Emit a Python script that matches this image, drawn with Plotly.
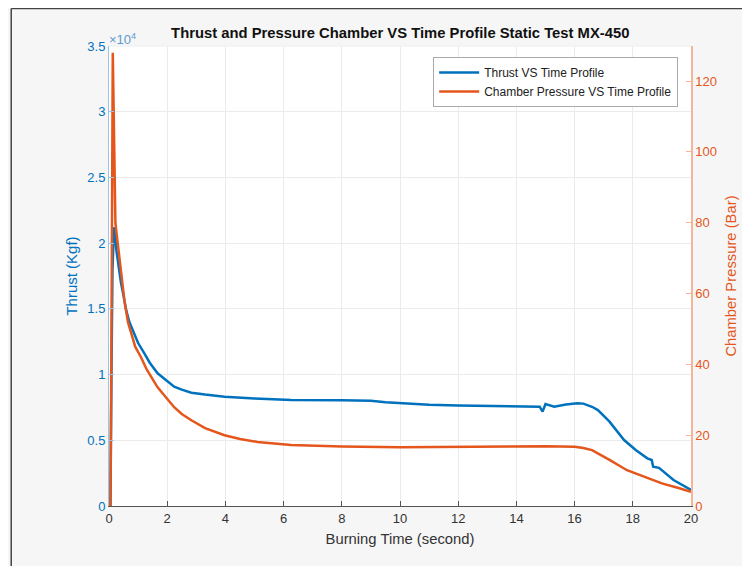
import plotly.graph_objects as go

# ---- data ----
thrust_time = [0.0, 0.05, 0.08, 0.12, 0.17, 0.21, 0.25, 0.3, 0.41, 0.5, 0.59, 0.7, 0.87, 1.0, 1.22, 1.4,
               1.67, 2.0, 2.24, 2.5, 2.83, 3.3, 3.97, 5.0, 6.26, 8.0, 9.0, 9.5, 10.0, 11.0, 12.0, 12.83,
               14.0, 14.6, 14.8, 14.9, 15.0, 15.3, 15.7, 16.1, 16.3, 16.6, 16.8, 17.2, 17.7, 18.1,
               18.5, 18.65, 18.7, 18.9, 19.4, 20.0]
thrust_kgf = [0, 0, 9000, 18000, 21200, 20800, 19500, 18600, 17000, 16000, 14900, 14000, 13100, 12400,
              11600, 10900, 10100, 9500, 9080, 8850, 8620, 8480, 8320, 8180, 8070, 8040, 8010, 7900,
              7830, 7700, 7640, 7610, 7600, 7590, 7560, 7180, 7760, 7560, 7720, 7810, 7790, 7550,
              7300, 6420, 5020, 4260, 3630, 3500, 2990, 2900, 1980, 1220]

press_time = [0.0, 0.05, 0.08, 0.1, 0.13, 0.16, 0.19, 0.22, 0.26, 0.3, 0.41, 0.45, 0.53, 0.65, 0.76,
              0.9, 1.1, 1.3, 1.67, 2.0, 2.24, 2.5, 2.83, 3.3, 3.97, 4.5, 5.1, 6.26, 8.0, 10.0, 12.0,
              14.0, 15.0, 16.0, 16.3, 16.6, 16.9, 17.2, 17.8, 18.4, 19.0, 19.6, 20.0]
press_bar = [0, 0, 40, 100, 128, 112, 90, 80, 77, 74, 67.3, 64, 58, 52, 48.7,
             45, 42, 38.5, 33.5, 30.2, 27.9, 26, 24.2, 22, 20.0, 18.9, 18.1, 17.2, 16.8, 16.6, 16.7,
             16.9, 16.9, 16.7, 16.4, 15.8, 14.5, 13.0, 10.1, 8.3, 6.4, 5.0, 4.0]

x_ticks = list(range(0, 21, 2))
left_tickvals = [0, 5000, 10000, 15000, 20000, 25000, 30000, 35000]
left_ticktext = ["0", "0.5", "1", "1.5", "2", "2.5", "3", "3.5"]
right_tickvals = [0, 20, 40, 60, 80, 100, 120]

BLUE = "#0072BD"
ORANGE = "#E4561C"
FONT = "Liberation Sans, Arial, sans-serif"

fig = go.Figure()
fig.add_trace(go.Scatter(x=thrust_time, y=thrust_kgf, mode="lines", name="Thrust VS Time Profile",
                         line=dict(color=BLUE, width=2.5), yaxis="y"))
fig.add_trace(go.Scatter(x=press_time, y=press_bar, mode="lines", name="Chamber Pressure VS Time Profile",
                         line=dict(color=ORANGE, width=2.5), yaxis="y2"))

fig.update_layout(
    width=750, height=566,
    margin=dict(l=101, r=67, t=38, b=68, autoexpand=False),
    paper_bgcolor="#f6f6f6", plot_bgcolor="white",
    font=dict(family=FONT, size=13, color="#333333"),
    title=dict(text="<b>Thrust and Pressure Chamber VS Time Profile Static Test MX-450</b>",
               x=0.523, xanchor="center", y=0.956, yanchor="middle", yref="container",
               font=dict(size=14.8, color="#111111", family=FONT)),
    xaxis=dict(range=[0, 20], tickvals=x_ticks, showgrid=True, gridcolor="#ebebeb",
               zeroline=False, showline=True, linecolor="#555555", linewidth=1,
               ticks="inside", ticklen=5, tickcolor="#555555", automargin=False,
               tickfont=dict(size=13, color="#333333"),
               title=dict(text="Burning Time (second)", font=dict(size=14.8, color="#333333"), standoff=9)),
    yaxis=dict(range=[0, 35000], tickvals=left_tickvals, ticktext=left_ticktext,
               showgrid=True, gridcolor="#ebebeb", zeroline=False, automargin=False,
               showline=True, linecolor="#9cc3e4", linewidth=1,
               ticks="inside", ticklen=5, tickcolor="#9cc3e4",
               tickfont=dict(size=13, color=BLUE),
               title=dict(text="Thrust (Kgf)", font=dict(size=15, color=BLUE), standoff=6)),
    yaxis2=dict(range=[0, 129.9], tickvals=right_tickvals, overlaying="y", side="right",
                showgrid=False, zeroline=False, showline=True, linecolor="#f4b59a", linewidth=1.5,
                ticks="inside", ticklen=5, tickcolor="#f4b59a", automargin=False,
                tickfont=dict(size=13, color=ORANGE),
                title=dict(text="Chamber Pressure (Bar)", font=dict(size=14.8, color=ORANGE), standoff=10)),
    legend=dict(x=0.557, y=0.976, xanchor="left", yanchor="top",
                bgcolor="white", bordercolor="#aaaaaa", borderwidth=1,
                font=dict(size=12, color="#222222"), tracegroupgap=0, itemwidth=40),
    showlegend=True,
    annotations=[dict(text="×10<sup>4</sup>", xref="paper", yref="paper", x=0.0, y=1.0,
                      xanchor="left", yanchor="bottom", showarrow=False,
                      font=dict(size=13, color="#5a9bd0"), xshift=-2, yshift=-3)],
    shapes=[
        dict(type="line", xref="paper", yref="paper", x0=0, x1=1, y0=1, y1=1,
             line=dict(color="#eeeeee", width=1)),
        dict(type="line", xref="paper", yref="paper", x0=-0.168, x1=-0.168, y0=-0.2, y1=1.0815,
             line=dict(color="#444444", width=1.5)),
        dict(type="line", xref="paper", yref="paper", x0=-0.168, x1=1.2, y0=1.0815, y1=1.0815,
             line=dict(color="#444444", width=1.5)),
    ],
)

fig.write_html("out.html")
